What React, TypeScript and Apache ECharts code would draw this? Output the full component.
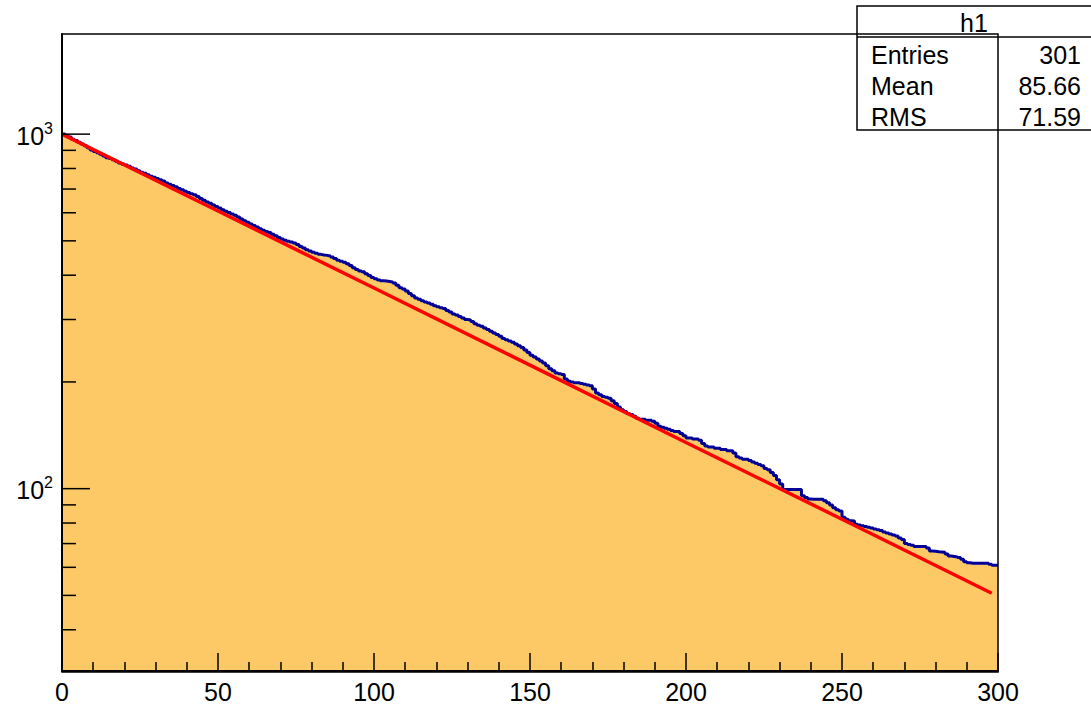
import React, { useEffect, useRef } from "react";
import * as echarts from "echarts";

// Histogram h1: 300 bins of width 1 on [0, 300), bin contents
const binLow: number[] = Array.from({ length: 300 }, (_, i) => i);
const histValues: number[] = [
  // 0-9
  1000, 989, 981, 967, 960, 948, 938, 927, 915, 902,
  // 10-19
  893, 886, 878, 868, 858, 853, 846, 838, 829, 824,
  // 20-29
  818, 812, 803, 797, 788, 781, 775, 768, 761, 756,
  // 30-39
  750, 743, 737, 728, 722, 716, 710, 703, 697, 690,
  // 40-49
  684, 679, 674, 667, 658, 651, 643, 638, 631, 625,
  // 50-59
  619, 612, 606, 601, 595, 590, 584, 576, 570, 564,
  // 60-69
  558, 552, 547, 541, 536, 531, 528, 522, 517, 511,
  // 70-79
  506, 502, 499, 496, 493, 488, 482, 477, 472, 468,
  // 80-89
  464, 461, 458, 456, 455, 453, 450, 446, 441, 438,
  // 90-99
  435, 431, 426, 420, 415, 411, 409, 404, 399, 394,
  // 100-109
  391, 388, 386, 385, 384, 383, 380, 375, 369, 366,
  // 110-119
  361, 355, 350, 345, 342, 339, 336, 334, 331, 328,
  // 120-129
  326, 324, 322, 318, 315, 311, 309, 306, 303, 300,
  // 130-139
  299, 296, 292, 289, 287, 284, 281, 278, 275, 272,
  // 140-149
  269, 265, 263, 261, 259, 256, 253, 250, 246, 242,
  // 150-159
  238, 235, 232, 229, 226, 222, 218, 215, 212, 211,
  // 160-169
  210, 204, 201, 200, 199, 199, 198, 197, 196, 195,
  // 170-179
  191, 186, 184, 182, 181, 180, 177, 174, 170, 167,
  // 180-189
  165, 163, 162, 160, 158, 157, 157, 156, 156, 155,
  // 190-199
  153, 150, 149, 148, 147, 146, 145, 145, 143, 141,
  // 200-209
  139, 139, 138, 138, 137, 134, 132, 131, 131, 130,
  // 210-219
  130, 129, 129, 128, 128, 126, 123, 122, 121, 121,
  // 220-229
  120, 119, 118, 117, 116, 114, 113, 111, 109, 106,
  // 230-239
  103, 99.5, 99.5, 99.5, 99.5, 99.5, 99.5, 95.5, 94.5, 93.5,
  // 240-249
  93.3, 93.3, 93.3, 93.3, 92.5, 91.3, 90, 88.4, 87.2, 86.5,
  // 250-259
  83, 82, 81.2, 81, 79.4, 79, 78.6, 78.2, 77.8, 77.4,
  // 260-269
  77, 76.6, 76.2, 75.5, 75, 74.5, 74, 73.5, 72.6, 71.9,
  // 270-279
  70, 69.6, 69.2, 68.7, 68.7, 68.7, 68.7, 68, 66.7, 66.6,
  // 280-289
  66.4, 66.3, 66.2, 65.4, 64.6, 64.4, 64.2, 63.9, 63.2, 62.2,
  // 290-299
  61.8, 61.6, 61.6, 61.6, 61.6, 61.6, 61.6, 61.2, 60.8, 60.8,
];
const histUpperEdge = 300;

// Fitted exponential (red)
const fitX: number[] = [0, 50, 100, 150, 200, 250, 298];
const fitY: number[] = [1000, 607, 368, 223, 135, 82, 50.7];

// Axis ranges
const xMin = 0;
const xMax = 300;
const xInterval = 50;
const yMin = 30.6;
const yMax = 1916;

// Log-axis tick marks
const yMajorTicks: number[] = [100, 1000];
const yMinorTicks: number[] = [40, 50, 60, 70, 80, 90, 200, 300, 400, 500, 600, 700, 800, 900];

// Stats box
const statsTitle = "h1";
const statsLabels: string[] = ["Entries", "Mean", "RMS"];
const statsValues: string[] = ["301", "85.66", "71.59"];

const FONT = "'Liberation Sans', Arial, Helvetica, sans-serif";

export default function App() {
  const ref = useRef<HTMLDivElement>(null);

  useEffect(() => {
    if (!ref.current) return;
    const chart = echarts.init(ref.current, null, { renderer: "svg" });

    const histData: number[][] = binLow.map((x, i) => [x, histValues[i]]);
    histData.push([histUpperEdge, histValues[histValues.length - 1]]);
    const fitData = fitX.map((x, i) => [x, fitY[i]]);
    const tickData = [
      ...yMajorTicks.map((v) => [xMin, v, 1]),
      ...yMinorTicks.map((v) => [xMin, v, 0]),
    ];

    const gridL = 62, gridT = 34, gridW = 936, gridH = 638;
    const boxX = 857, boxY = 6, boxW = 240, headH = 31, rowH = 31;
    const boxH = headH + rowH * statsLabels.length;

    const statsChildren: any[] = [
      {
        type: "rect",
        shape: { x: boxX, y: boxY, width: boxW, height: boxH },
        style: { fill: "#fff", stroke: "#000", lineWidth: 1.5 },
      },
      {
        type: "line",
        shape: { x1: boxX, y1: boxY + headH, x2: boxX + boxW, y2: boxY + headH },
        style: { stroke: "#000", lineWidth: 1.5 },
      },
      {
        type: "text",
        style: {
          text: statsTitle,
          x: 974,
          y: boxY + headH / 2 + 1,
          align: "center",
          verticalAlign: "middle",
          fontSize: 25,
          fontFamily: FONT,
          fill: "#000",
        },
      },
    ];
    statsLabels.forEach((lab, i) => {
      const cy = boxY + headH + rowH * i + rowH / 2 + 2;
      statsChildren.push({
        type: "text",
        style: {
          text: lab, x: 871, y: cy, align: "left", verticalAlign: "middle",
          fontSize: 25, fontFamily: FONT, fill: "#000",
        },
      });
      statsChildren.push({
        type: "text",
        style: {
          text: statsValues[i], x: 1081, y: cy, align: "right", verticalAlign: "middle",
          fontSize: 25, fontFamily: FONT, fill: "#000",
        },
      });
    });

    chart.setOption({
      animation: false,
      backgroundColor: "#fff",
      grid: { left: gridL, top: gridT, width: gridW, height: gridH, containLabel: false },
      xAxis: {
        type: "value",
        min: xMin,
        max: xMax,
        interval: xInterval,
        z: 10,
        axisLine: { show: true, lineStyle: { color: "#000", width: 2 } },
        axisTick: { show: true, inside: true, length: 18, lineStyle: { color: "#000", width: 1.5 } },
        minorTick: { show: true, splitNumber: 5, length: 9, lineStyle: { color: "#000", width: 1.5 } },
        splitLine: { show: false },
        minorSplitLine: { show: false },
        axisLabel: {
          color: "#000",
          fontSize: 25,
          fontFamily: FONT,
          margin: 8,
          showMinLabel: true,
          showMaxLabel: true,
        },
      },
      yAxis: {
        type: "log",
        logBase: 10,
        min: yMin,
        max: yMax,
        z: 10,
        axisLine: { show: true, lineStyle: { color: "#000", width: 2 } },
        axisTick: { show: false },
        splitLine: { show: false },
        axisLabel: {
          color: "#000",
          margin: 9,
          showMinLabel: false,
          showMaxLabel: false,
          formatter: (v: number) => {
            const l = Math.log10(v);
            if (Math.abs(l - Math.round(l)) < 1e-6) return "{b|10}{s|" + Math.round(l) + "}";
            return "";
          },
          rich: {
            b: { fontSize: 25, fontFamily: FONT, color: "#000", verticalAlign: "bottom", lineHeight: 28 },
            s: { fontSize: 16, fontFamily: FONT, color: "#000", verticalAlign: "top", lineHeight: 28 },
          },
        },
      },
      series: [
        {
          name: "h1",
          type: "line",
          step: "end",
          data: histData,
          symbol: "none",
          z: 2,
          lineStyle: { color: "#000099", width: 3 },
          areaStyle: { color: "#FDC966", opacity: 1, origin: "start" },
        },
        {
          name: "fit",
          type: "line",
          data: fitData,
          symbol: "none",
          z: 3,
          lineStyle: { color: "#FF0000", width: 3.5 },
        },
        {
          name: "yticks",
          type: "custom",
          z: 20,
          silent: true,
          clip: false,
          data: tickData,
          renderItem: (params: any, api: any) => {
            const p = api.coord([api.value(0), api.value(1)]);
            const len = api.value(2) === 1 ? 28 : 14;
            return {
              type: "line",
              shape: { x1: p[0], y1: p[1], x2: p[0] + len, y2: p[1] },
              style: { stroke: "#000", lineWidth: 1.5 },
            };
          },
        },
      ],
      graphic: [
        {
          type: "rect",
          z: 100,
          silent: true,
          shape: { x: gridL, y: gridT, width: gridW, height: gridH },
          style: { fill: "none", stroke: "#000", lineWidth: 1.5 },
        },
        { type: "group", z: 200, children: statsChildren },
      ],
    });

    return () => chart.dispose();
  }, []);

  return (
    <div
      ref={ref}
      style={{ position: "fixed", left: 0, top: 0, width: 1091, height: 704 }}
    />
  );
}
